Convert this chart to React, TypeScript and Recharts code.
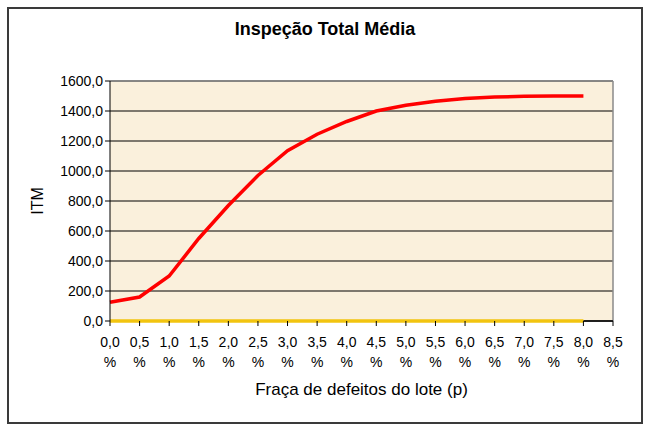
import { LineChart, Line, XAxis, YAxis, CartesianGrid, ReferenceLine, Label } from 'recharts';

const pValues = [0, 0.5, 1, 1.5, 2, 2.5, 3, 3.5, 4, 4.5, 5, 5.5, 6, 6.5, 7, 7.5, 8];
const itmValues = [125, 160, 300, 550, 770, 970, 1135, 1245, 1330, 1400, 1438, 1465, 1483, 1493, 1498, 1500, 1500];
const baseValues = [0, 0, 0, 0, 0, 0, 0, 0, 0, 0, 0, 0, 0, 0, 0, 0, 0];
const xTicks = [0, 0.5, 1, 1.5, 2, 2.5, 3, 3.5, 4, 4.5, 5, 5.5, 6, 6.5, 7, 7.5, 8, 8.5];
const yTicks = [0, 200, 400, 600, 800, 1000, 1200, 1400, 1600];

const data = pValues.map((p, i) => ({ p, itm: itmValues[i], base: baseValues[i] }));

const FONT = '"Liberation Sans", Arial, sans-serif';
const fmt = (v: number) => v.toFixed(1).replace('.', ',');

function XTick({ x, y, payload }: any) {
  return (
    <g>
      <text x={x} y={y + 19} textAnchor="middle" fontSize={14} fontFamily={FONT} fill="#000">
        {fmt(payload.value)}
      </text>
      <text x={x} y={y + 39} textAnchor="middle" fontSize={14} fontFamily={FONT} fill="#000">
        %
      </text>
    </g>
  );
}

export default function App() {
  return (
    <div style={{ position: 'absolute', left: 0, top: 0, width: 654, height: 433, background: '#fff' }}>
      <div
        style={{
          position: 'absolute', left: 7, top: 7, width: 632, height: 413,
          border: '2px solid #3a3a3a', boxSizing: 'content-box',
        }}
      />
      <div
        style={{
          position: 'absolute', left: 0, top: 19, width: 650, textAlign: 'center',
          fontFamily: FONT, fontWeight: 'bold', fontSize: 18, color: '#000',
        }}
      >
        Inspeção Total Média
      </div>
      <div style={{ position: 'absolute', left: 0, top: 0 }}>
        <LineChart width={654} height={433} data={data} margin={{ top: 81, right: 41, left: 40, bottom: 52 }}>
          <CartesianGrid vertical={false} stroke="#000" strokeOpacity={1} strokeWidth={1} fill="#FAF0DC" fillOpacity={1} />
          <XAxis
            dataKey="p"
            type="number"
            domain={[0, 8.5]}
            ticks={xTicks}
            interval={0}
            height={60}
            stroke="#000"
            axisLine={false}
            tickLine={{ stroke: '#000' }}
            tickSize={5}
            tick={<XTick />}
          >
            <Label value="Fraça de defeitos do lote (p)" position="insideBottom" offset={-14}
              style={{ fontFamily: FONT, fontSize: 17, fill: '#000' }} />
          </XAxis>
          <YAxis
            type="number"
            domain={[0, 1600]}
            ticks={yTicks}
            width={70}
            stroke="#000"
            tickSize={5}
            tickFormatter={fmt}
            tick={{ fontSize: 14, fontFamily: FONT, fill: '#000' }}
          >
            <Label value="ITM" angle={-90} position="insideLeft" offset={-3}
              style={{ fontFamily: FONT, fontSize: 16, fill: '#000', textAnchor: 'middle' }} />
          </YAxis>
          <ReferenceLine y={1600} stroke="#8a8a8a" strokeWidth={1.5} />
          <ReferenceLine x={8.5} stroke="#8a8a8a" strokeWidth={1.5} />
          <ReferenceLine segment={[{ x: 8, y: 0 }, { x: 8.5, y: 0 }]} stroke="#000" strokeWidth={1.5} />
          <Line type="linear" dataKey="base" stroke="#F2C40F" strokeWidth={3.5} dot={false} isAnimationActive={false} />
          <Line type="linear" dataKey="itm" stroke="#FF0000" strokeWidth={3.5} dot={false} isAnimationActive={false} />
        </LineChart>
      </div>
    </div>
  );
}
